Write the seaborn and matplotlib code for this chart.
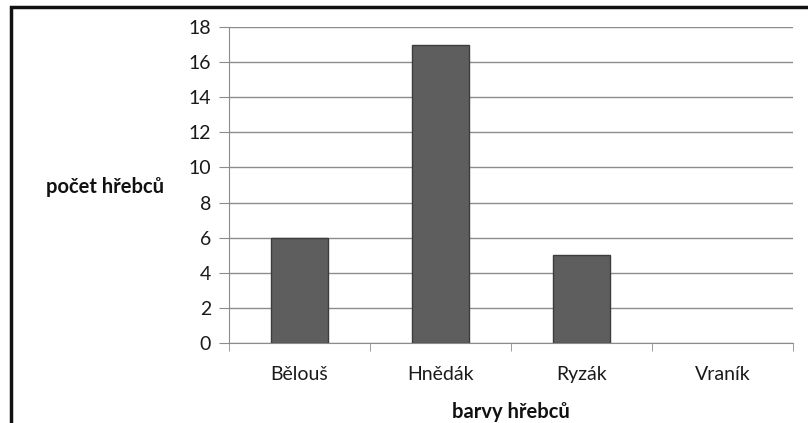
import matplotlib
matplotlib.use('Agg')
import matplotlib.pyplot as plt
import seaborn as sns
import pandas as pd
from matplotlib.patches import Rectangle

# data
barvy = ['Bělouš', 'Hnědák', 'Ryzák', 'Vraník']
pocet = [6, 17, 5, 0]

df = pd.DataFrame({'barva': barvy, 'pocet': pocet})

sns.set_style('white')
plt.rcParams['font.family'] = ['Lato', 'DejaVu Sans']

fig = plt.figure(figsize=(8.08, 4.23), dpi=100)
ax = fig.add_axes([229 / 808, 1 - 343 / 423, (793 - 229) / 808, (343 - 27) / 423])

sns.barplot(data=df, x='barva', y='pocet', color='#5e5e5e', width=0.41,
            edgecolor='#3c3c3c', linewidth=1.0, saturation=1, ax=ax)
# no outline for empty bars
for bar in ax.patches:
    if bar.get_height() == 0:
        bar.set_edgecolor('none')

ax.set_ylim(0, 18)
ax.set_yticks(range(0, 19, 2))
ax.set_xlim(-0.5, 3.5)
ax.yaxis.grid(True, color='#8c8c8c', linewidth=1.0)
ax.set_axisbelow(True)

for s in ['top', 'right']:
    ax.spines[s].set_visible(False)
ax.spines['left'].set_color('#8c8c8c')
ax.spines['bottom'].set_color('#8c8c8c')

ax.tick_params(axis='y', left=True, length=7, color='#8c8c8c', labelsize=14,
               labelcolor='#1a1a1a', pad=6)
ax.set_xticks([0, 1, 2, 3])
ax.set_xticks([-0.5, 0.5, 1.5, 2.5, 3.5], minor=True)
ax.tick_params(axis='x', which='major', bottom=False, labelsize=14,
               labelcolor='#1a1a1a', pad=13)
ax.tick_params(axis='x', which='minor', bottom=True, length=6, color='#8c8c8c')

ax.set_ylabel('')
ax.set_xlabel('')
fig.text(105 / 808, 1 - 187 / 423, 'počet hřebců', ha='center', va='center',
         fontsize=14.5, fontweight='bold', color='#111111')
fig.text(511 / 808, 1 / 423, 'barvy hřebců', ha='center', va='bottom',
         fontsize=14.5, fontweight='bold', color='#111111')

# chart border (left and top visible, rest cropped)
fig.patches.append(Rectangle((11 / 808, -0.1), 1.2, 1 - 7 / 423 + 0.1,
                             transform=fig.transFigure, fill=False,
                             edgecolor='#111111', linewidth=2.5))

fig.savefig('out.png', dpi=100)
